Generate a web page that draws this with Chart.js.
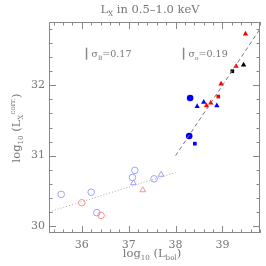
<!DOCTYPE html>
<html>
<head>
<meta charset="utf-8">
<script src="https://cdn.jsdelivr.net/npm/chart.js@4"></script>
<style>
  html, body { margin: 0; padding: 0; background: #fff; }
  #wrap { width: 266px; height: 266px; }
</style>
</head>
<body>
<div id="wrap"><canvas id="c" width="266" height="266"></canvas></div>
<script>
// axis ranges and ticks
const xMin = 35.3, xMax = 39.8;
const yMin = 29.9, yMax = 32.9;
const xTickLabels = [36, 37, 38, 39];
const yTickLabels = [30, 31, 32];

// filled symbols (high luminosity)
const blueCircles = [[38.31, 31.82], [38.29, 31.28]];
const blueSquares = [[38.41, 31.17]];
const blueTriangles = [[38.46, 31.70], [38.60, 31.76], [38.88, 31.71]];
const redTriangles = [[38.66, 31.71], [38.75, 31.75], [38.97, 32.02], [39.29, 32.27], [39.49, 32.73]];
const redSquares = [[38.91, 31.84]];
const blackSquares = [[39.21, 32.20]];
const blackTriangles = [[39.45, 32.29]];

// open symbols (low luminosity)
const openBlueCircles = [[35.56, 30.45], [36.20, 30.48], [36.32, 30.19], [37.08, 30.69], [37.13, 30.79], [37.54, 30.67]];
const openRedCircles = [[36.00, 30.33], [36.41, 30.15]];
const openBlueTriangles = [[37.10, 30.61], [37.69, 30.73]];
const openRedTriangles = [[37.30, 30.51]];

// fits
const fitHigh = [[38.0, 31.0], [39.8, 32.8]];
const fitLow = [[35.3, 30.2], [38.0, 30.76]];

// sigma annotations
const sigmaNotes = [
  { x: 36.1, y: 32.45, sub: 'B', text: '=0.17' },
  { x: 38.17, y: 32.45, sub: 'o', text: '=0.19' }
];

const pts = arr => arr.map(p => ({ x: p[0], y: p[1] }));

function sym(data, style, color, filled, r) {
  return {
    type: 'scatter',
    data: pts(data),
    pointStyle: style,
    pointRadius: r,
    pointBackgroundColor: filled ? color : 'rgba(0,0,0,0)',
    pointBorderColor: color,
    pointBorderWidth: filled ? 0 : 1
  };
}

const serif = '"DejaVu Serif", "Liberation Serif", serif';

function richText(ctx, parts, x, y, size, align) {
  // parts: [text, mode] mode: 0 normal, 1 sub, 2 sup
  const widths = parts.map(p => {
    ctx.font = (p[1] ? size * 0.62 : size) + 'px ' + serif;
    return ctx.measureText(p[0]).width;
  });
  const total = widths.reduce((a, b) => a + b, 0);
  let cx = align === 'center' ? x - total / 2 : x;
  parts.forEach((p, i) => {
    ctx.font = (p[1] ? size * 0.62 : size) + 'px ' + serif;
    const dy = p[1] === 1 ? size * 0.3 : p[1] === 2 ? -size * 0.45 : 0;
    ctx.fillText(p[0], cx, y + dy);
    cx += widths[i];
  });
}

const frame = {
  id: 'frame',
  afterDatasetsDraw(chart) {
    const { ctx, chartArea: a, scales: { x, y } } = chart;
    ctx.save();
    ctx.strokeStyle = '#888';
    ctx.lineWidth = 1;
    ctx.strokeRect(a.left + 0.5, a.top + 0.5, a.right - a.left - 1, a.bottom - a.top - 1);

    // inward ticks on all four sides
    ctx.beginPath();
    for (let v = 35.4; v <= xMax + 1e-6; v += 0.2) {
      const major = Math.abs(v - Math.round(v)) < 1e-6;
      const len = major ? 7 : 3.5;
      const px = Math.round(x.getPixelForValue(v)) + 0.5;
      ctx.moveTo(px, a.bottom); ctx.lineTo(px, a.bottom - len);
      ctx.moveTo(px, a.top); ctx.lineTo(px, a.top + len);
    }
    for (let v = 30.0; v <= yMax + 1e-6; v += 0.2) {
      const major = Math.abs(v - Math.round(v)) < 1e-6;
      const len = major ? 7 : 3.5;
      const py = Math.round(y.getPixelForValue(v)) + 0.5;
      ctx.moveTo(a.left, py); ctx.lineTo(a.left + len, py);
      ctx.moveTo(a.right, py); ctx.lineTo(a.right - len, py);
    }
    ctx.stroke();

    // tick labels
    ctx.fillStyle = '#777';
    ctx.font = '11px ' + serif;
    ctx.textAlign = 'center';
    ctx.textBaseline = 'alphabetic';
    xTickLabels.forEach(v => ctx.fillText(String(v), x.getPixelForValue(v), a.bottom + 15));
    ctx.textAlign = 'right';
    ctx.textBaseline = 'middle';
    yTickLabels.forEach(v => ctx.fillText(String(v), a.left - 4, y.getPixelForValue(v)));

    // titles
    ctx.textAlign = 'left';
    ctx.textBaseline = 'alphabetic';
    richText(ctx, [['L', 0], ['X', 1], [' in 0.5\u20131.0 keV', 0]], 150, 13, 11.5, 'center');
    richText(ctx, [['log', 0], ['10', 1], [' (L', 0], ['bol', 1], [')', 0]], 152, 257, 11.5, 'center');
    ctx.save();
    ctx.translate(20, 128);
    ctx.rotate(-Math.PI / 2);
    richText(ctx, [['log', 0], ['10', 1], [' (L', 0], ['X', 1], ['corr.', 2], [')', 0]], 0, 0, 11.5, 'center');
    ctx.restore();

    // sigma notes
    sigmaNotes.forEach(n => {
      const px = x.getPixelForValue(n.x);
      const py = y.getPixelForValue(n.y);
      ctx.strokeStyle = '#888';
      ctx.lineWidth = 1.5;
      ctx.beginPath();
      ctx.moveTo(px, py - 6); ctx.lineTo(px, py + 6);
      ctx.stroke();
      ctx.fillStyle = '#777';
      richText(ctx, [['\u03c3', 0], [n.sub, 1], [n.text, 0]], px + 5, py + 3, 9.5, 'left');
    });
    ctx.restore();
  }
};

new Chart(document.getElementById('c'), {
  type: 'scatter',
  data: {
    datasets: [
      { type: 'line', data: pts(fitHigh), borderColor: '#777', borderWidth: 1, borderDash: [4, 3], pointRadius: 0, fill: false },
      { type: 'line', data: pts(fitLow), borderColor: '#aaa', borderWidth: 1, borderDash: [1, 2], pointRadius: 0, fill: false },
      sym(openBlueCircles, 'circle', '#a0a0ff', false, 3.3),
      sym(openRedCircles, 'circle', '#ff9090', false, 3.3),
      sym(openBlueTriangles, 'triangle', '#a0a0ff', false, 3.3),
      sym(openRedTriangles, 'triangle', '#ff9090', false, 3.3),
      sym(blueCircles, 'circle', '#0000ff', true, 3.3),
      sym(blueSquares, 'rect', '#0000ff', true, 2.6),
      sym(blueTriangles, 'triangle', '#0000ff', true, 3.1),
      sym(redTriangles, 'triangle', '#ff0000', true, 3.1),
      sym(redSquares, 'rect', '#ff0000', true, 2.6),
      sym(blackSquares, 'rect', '#000000', true, 2.6),
      sym(blackTriangles, 'triangle', '#000000', true, 3.1)
    ]
  },
  options: {
    responsive: false,
    animation: false,
    layout: { padding: { left: 49, right: 6, top: 22, bottom: 33 } },
    plugins: { legend: { display: false }, tooltip: { enabled: false } },
    scales: {
      x: { type: 'linear', min: xMin, max: xMax, display: false },
      y: { type: 'linear', min: yMin, max: yMax, display: false }
    }
  },
  plugins: [frame]
});
</script>
</body>
</html>
